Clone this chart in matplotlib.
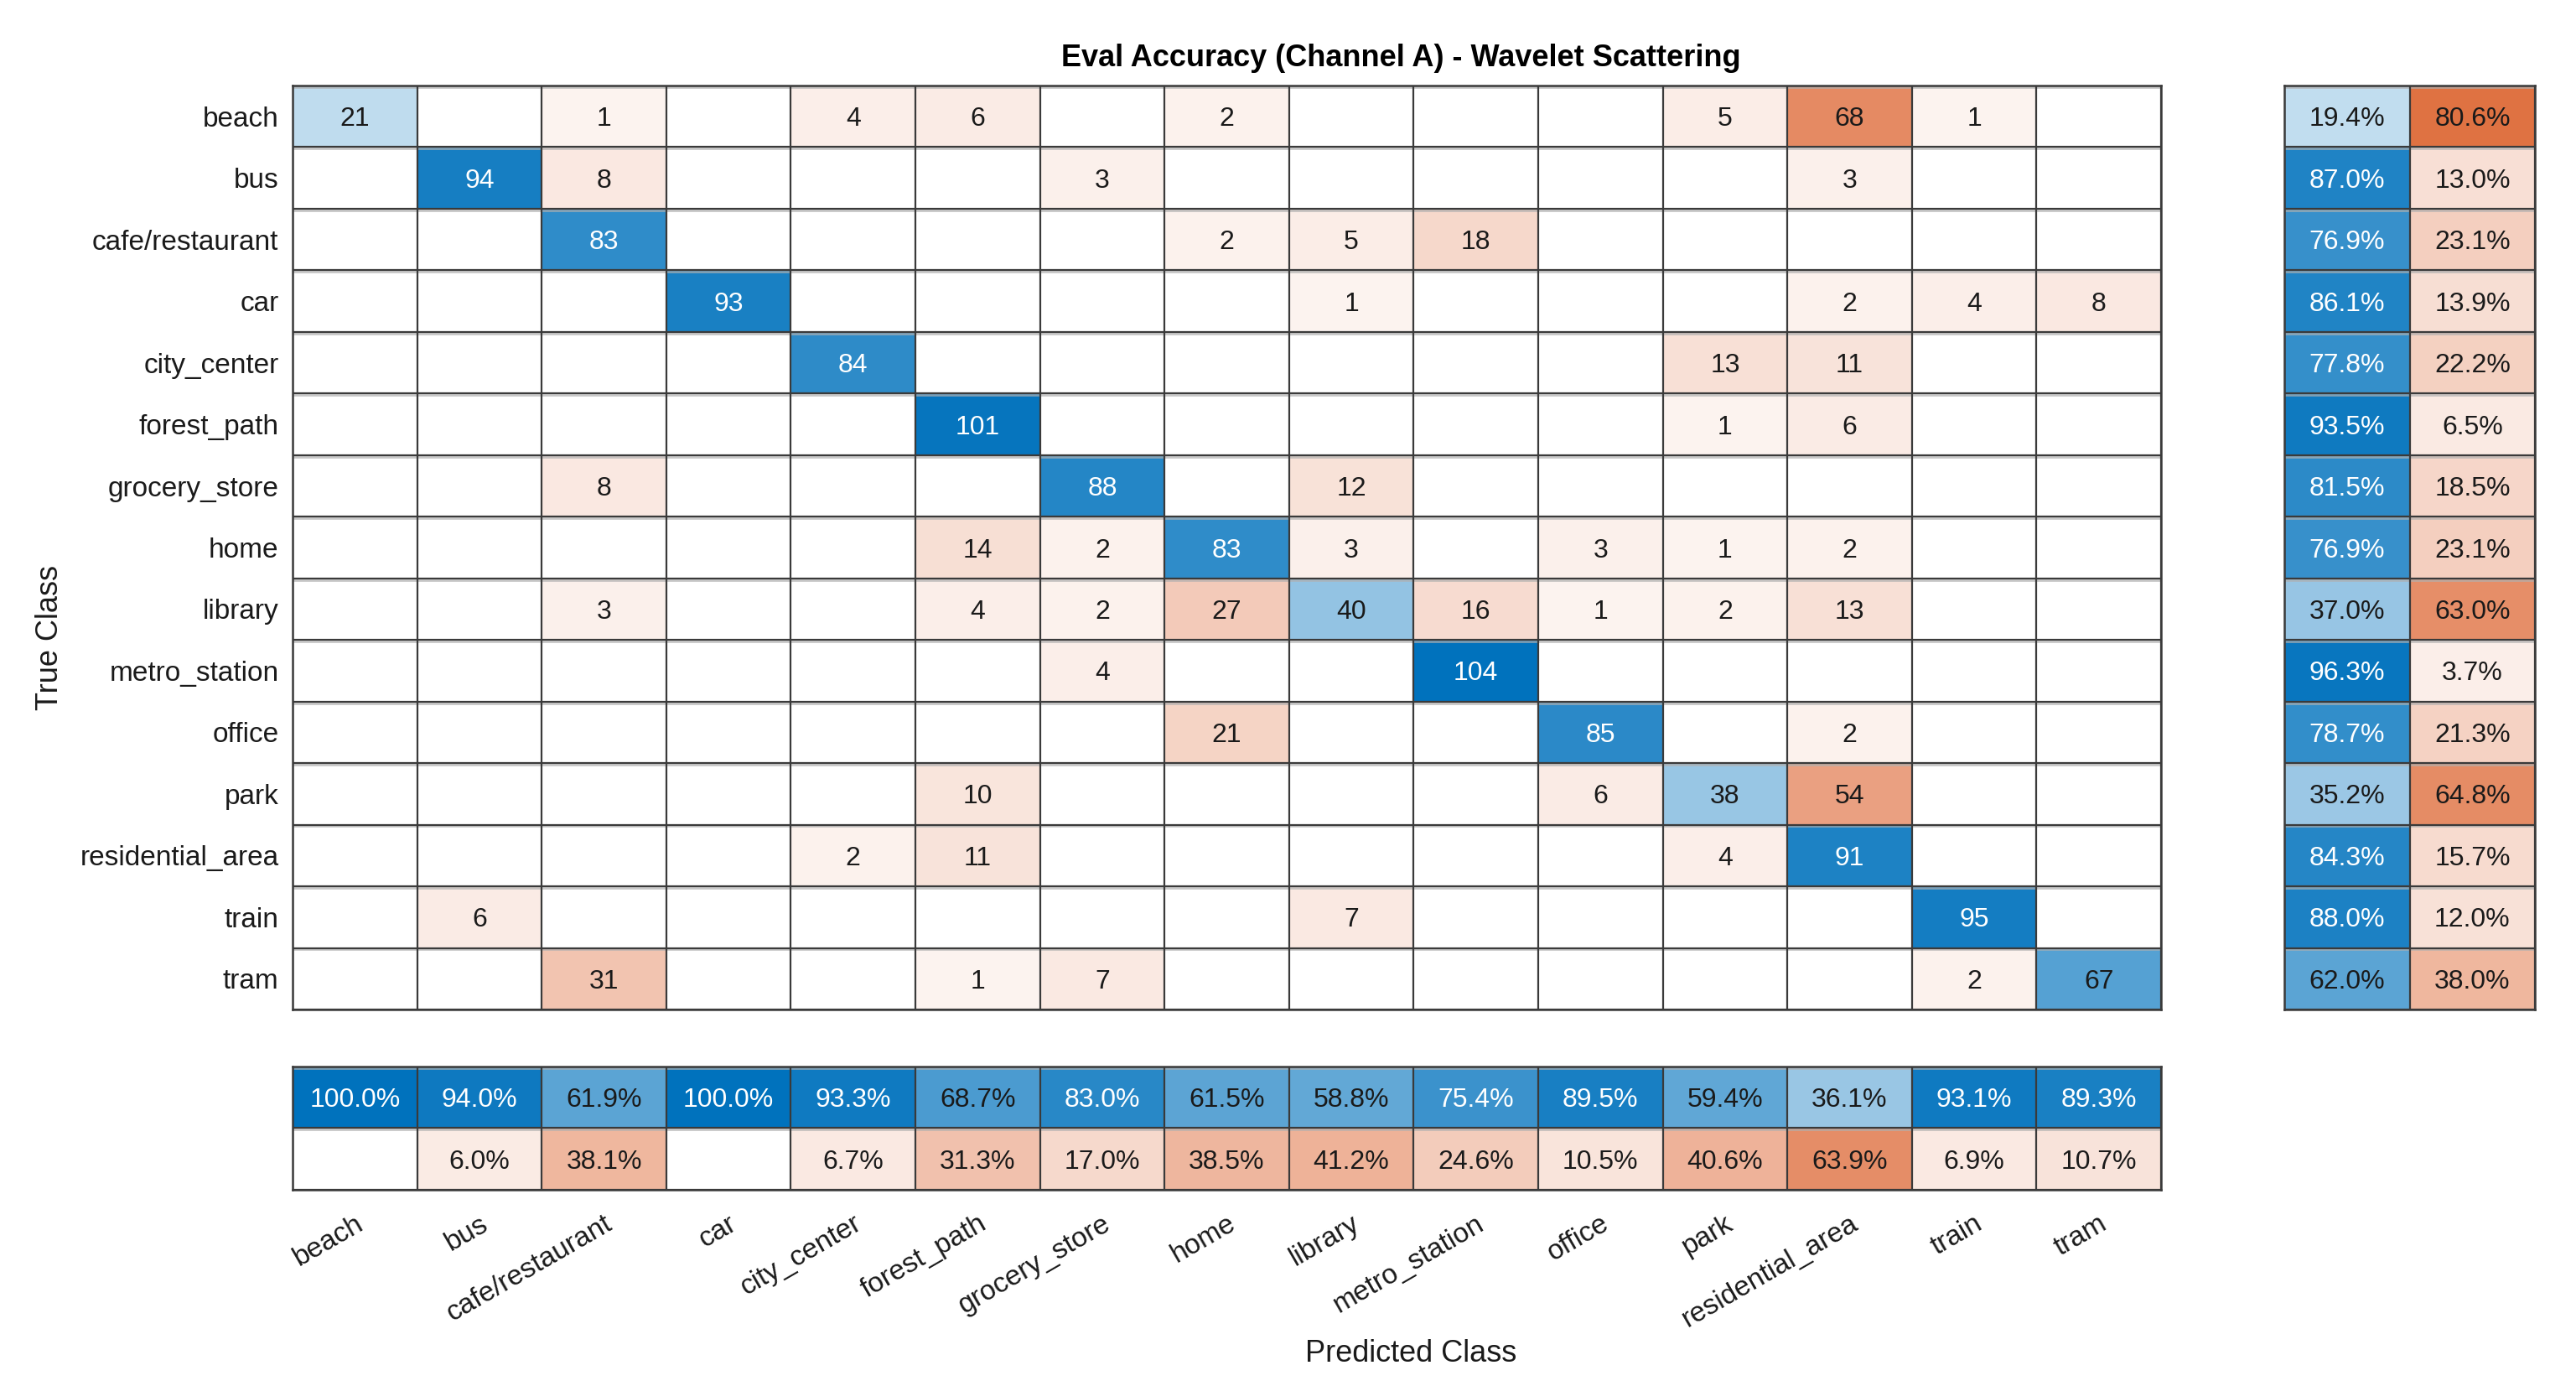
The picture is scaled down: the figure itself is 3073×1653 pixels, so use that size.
import numpy as np
import numpy.ma as ma
import matplotlib
matplotlib.use('Agg')
import matplotlib.pyplot as plt
from matplotlib.colors import LinearSegmentedColormap, to_rgb

classes = ['beach', 'bus', 'cafe/restaurant', 'car', 'city_center', 'forest_path',
           'grocery_store', 'home', 'library', 'metro_station', 'office', 'park',
           'residential_area', 'train', 'tram']

# rows = true class, columns = predicted class
counts = np.array([
    [21, 0, 1, 0, 4, 6, 0, 2, 0, 0, 0, 5, 68, 1, 0],
    [0, 94, 8, 0, 0, 0, 3, 0, 0, 0, 0, 0, 3, 0, 0],
    [0, 0, 83, 0, 0, 0, 0, 2, 5, 18, 0, 0, 0, 0, 0],
    [0, 0, 0, 93, 0, 0, 0, 0, 1, 0, 0, 0, 2, 4, 8],
    [0, 0, 0, 0, 84, 0, 0, 0, 0, 0, 0, 13, 11, 0, 0],
    [0, 0, 0, 0, 0, 101, 0, 0, 0, 0, 0, 1, 6, 0, 0],
    [0, 0, 8, 0, 0, 0, 88, 0, 12, 0, 0, 0, 0, 0, 0],
    [0, 0, 0, 0, 0, 14, 2, 83, 3, 0, 3, 1, 2, 0, 0],
    [0, 0, 3, 0, 0, 4, 2, 27, 40, 16, 1, 2, 13, 0, 0],
    [0, 0, 0, 0, 0, 0, 4, 0, 0, 104, 0, 0, 0, 0, 0],
    [0, 0, 0, 0, 0, 0, 0, 21, 0, 0, 85, 0, 2, 0, 0],
    [0, 0, 0, 0, 0, 10, 0, 0, 0, 0, 6, 38, 54, 0, 0],
    [0, 0, 0, 0, 2, 11, 0, 0, 0, 0, 0, 4, 91, 0, 0],
    [0, 6, 0, 0, 0, 0, 0, 0, 7, 0, 0, 0, 0, 95, 0],
    [0, 0, 31, 0, 0, 1, 7, 0, 0, 0, 0, 0, 0, 2, 67],
])

title = 'Eval Accuracy (Channel A) - Wavelet Scattering'


def ramp(name, base, start=0.06):
    # white -> base, with a small tint already for the smallest non-zero value
    b = np.array(to_rgb(base))
    c0 = (1 - start) * np.ones(3) + start * b
    return LinearSegmentedColormap.from_list(name, [tuple(c0), tuple(b)])


blues = ramp('diag', '#0072BD')
oranges = ramp('off', '#D95319')
line_col = '#3a3a3a'
shade_col = '#b0b0b0'
txt_col = '#1a1a1a'

n = len(classes)
tp = np.diag(counts)
recall = 100.0 * tp / counts.sum(axis=1)
precision = 100.0 * tp / counts.sum(axis=0)

plt.rcParams['font.family'] = ['Liberation Sans', 'DejaVu Sans']

fig = plt.figure(figsize=(15.365, 8.265), dpi=200)
ax = fig.add_axes([0.1136, 0.2716, 0.7253, 0.6667])
ax_r = fig.add_axes([0.8868, 0.2716, 0.0973, 0.6667])
ax_b = fig.add_axes([0.1136, 0.1416, 0.7253, 0.0889])


def draw(axis, values, is_diag, vmax, fmt):
    off = ma.masked_where(is_diag | (values == 0), values)
    on = ma.masked_where(~is_diag | (values == 0), values)
    axis.imshow(off, cmap=oranges, vmin=0, vmax=vmax, aspect='auto', interpolation='nearest')
    axis.imshow(on, cmap=blues, vmin=0, vmax=vmax, aspect='auto', interpolation='nearest')
    rows, cols = values.shape
    for i in range(rows):
        for j in range(cols):
            v = values[i, j]
            if v == 0:
                continue
            white = is_diag[i, j] and v / vmax > 0.7
            axis.text(j, i, fmt(v), ha='center', va='center_baseline',
                      color='white' if white else txt_col, fontsize=11.5)
    # soft grey band just under each row line
    for k in range(rows + 1):
        axis.axhline(k - 0.5 + 0.025, color=shade_col, lw=1.0, zorder=1.4, alpha=0.7)
    axis.set_xticks(np.arange(-0.5, cols, 1), minor=True)
    axis.set_yticks(np.arange(-0.5, rows, 1), minor=True)
    axis.grid(which='minor', color=line_col, lw=0.8)
    axis.tick_params(which='both', length=0)
    axis.set_xticks([])
    axis.set_yticks([])
    axis.set_xlim(-0.5, cols - 0.5)
    axis.set_ylim(rows - 0.5, -0.5)
    for s in axis.spines.values():
        s.set_color(line_col)
        s.set_linewidth(0.9)


pct = lambda v: '%.1f%%' % v

draw(ax, counts, np.eye(n, dtype=bool), counts.max(), lambda v: '%d' % v)
ax.set_yticks(range(n))
ax.set_yticklabels(classes, fontsize=12, color=txt_col)
ax.tick_params(axis='y', which='major', pad=6, length=0)

side = np.column_stack([recall, 100.0 - recall])
side_diag = np.zeros_like(side, dtype=bool)
side_diag[:, 0] = True
draw(ax_r, side, side_diag, 100.0, pct)

bottom = np.vstack([precision, 100.0 - precision])
bottom_diag = np.zeros_like(bottom, dtype=bool)
bottom_diag[0, :] = True
draw(ax_b, bottom, bottom_diag, 100.0, pct)
ax_b.set_xticks(range(n))
ax_b.set_xticklabels(classes, fontsize=12, color=txt_col, rotation=30,
                     ha='right', va='top', rotation_mode='anchor')
ax_b.tick_params(axis='x', which='major', pad=9, length=0)

fig.text(0.544, 0.958, title, ha='center', va='center', fontsize=13, fontweight='bold', color='black')
fig.text(0.0195, 0.540, 'True Class', ha='center', va='center', rotation=90, fontsize=13, color=txt_col)
fig.text(0.5477, 0.023, 'Predicted Class', ha='center', va='center', fontsize=13, color=txt_col)

fig.savefig('out.png', dpi=200)
